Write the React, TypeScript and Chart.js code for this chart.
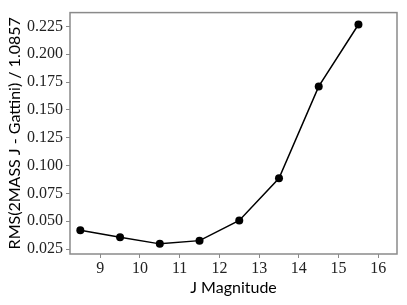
import React, { useEffect, useRef } from "react";
import { Chart, registerables } from "chart.js";

Chart.register(...registerables);

const jMagnitude = [8.5, 9.5, 10.5, 11.5, 12.5, 13.5, 14.5, 15.5];
const rmsValues = [0.0419, 0.0357, 0.0297, 0.0326, 0.0507, 0.0886, 0.1711, 0.2267];
const xTicks = [9, 10, 11, 12, 13, 14, 15, 16];
const yTicks = [0.025, 0.05, 0.075, 0.1, 0.125, 0.15, 0.175, 0.2, 0.225];
const xTitle = "J Magnitude";
const yTitle = "RMS(2MASS J - Gattini) / 1.0857";

const frame = {
  id: "frame",
  afterDraw(chart: any) {
    const { ctx, chartArea } = chart;
    ctx.save();
    ctx.strokeStyle = "#8a8a8a";
    ctx.lineWidth = 1.5;
    ctx.strokeRect(chartArea.left, chartArea.top, chartArea.right - chartArea.left, chartArea.bottom - chartArea.top);
    ctx.restore();
  },
};

export default function App() {
  const ref = useRef<HTMLCanvasElement>(null);
  useEffect(() => {
    document.body.style.margin = "0";
    const chart = new Chart(ref.current!, {
      type: "line",
      data: {
        datasets: [
          {
            data: jMagnitude.map((x, i) => ({ x, y: rmsValues[i] })),
            borderColor: "#000",
            backgroundColor: "#000",
            borderWidth: 1.5,
            pointRadius: 4,
            pointBackgroundColor: "#000",
            pointBorderWidth: 0,
            tension: 0,
          },
        ],
      },
      options: {
        animation: false,
        responsive: false,
        maintainAspectRatio: false,
        layout: { padding: { top: 10, right: 10, left: 0, bottom: 0 } },
        plugins: { legend: { display: false }, tooltip: { enabled: false } },
        scales: {
          x: {
            type: "linear",
            min: 8.24,
            max: 16.47,
            afterBuildTicks: (s: any) => {
              s.ticks = xTicks.map((v) => ({ value: v }));
            },
            afterFit: (s: any) => {
              s.height = 51;
            },
            grid: { display: true, drawOnChartArea: false, drawTicks: true, tickLength: 4, color: "#8a8a8a", lineWidth: 1 },
            border: { display: false },
            ticks: {
              color: "#222",
              font: { family: "Liberation Serif", size: 16 },
              padding: 1,
              maxRotation: 0,
              callback: (v: any) => String(v),
            },
            title: {
              display: true,
              text: xTitle,
              color: "#000",
              font: { family: "Lato", size: 16 },
              padding: { top: 0, bottom: 8 },
            },
          },
          y: {
            type: "linear",
            min: 0.0206,
            max: 0.2374,
            afterBuildTicks: (s: any) => {
              s.ticks = yTicks.map((v) => ({ value: v }));
            },
            afterFit: (s: any) => {
              s.width = 70;
            },
            grid: { display: true, drawOnChartArea: false, drawTicks: true, tickLength: 4, color: "#8a8a8a", lineWidth: 1 },
            border: { display: false },
            ticks: {
              color: "#222",
              font: { family: "Liberation Serif", size: 16 },
              padding: 3,
              callback: (v: any) => Number(v).toFixed(3),
            },
            title: {
              display: true,
              text: yTitle,
              color: "#000",
              font: { family: "Lato", size: 16 },
              padding: { top: 5, bottom: 0 },
            },
          },
        },
      },
      plugins: [frame],
    });
    return () => chart.destroy();
  }, []);
  return (
    <div style={{ position: "fixed", left: 0, top: 0, width: 407, height: 305 }}>
      <canvas ref={ref} width={407} height={305} />
    </div>
  );
}
